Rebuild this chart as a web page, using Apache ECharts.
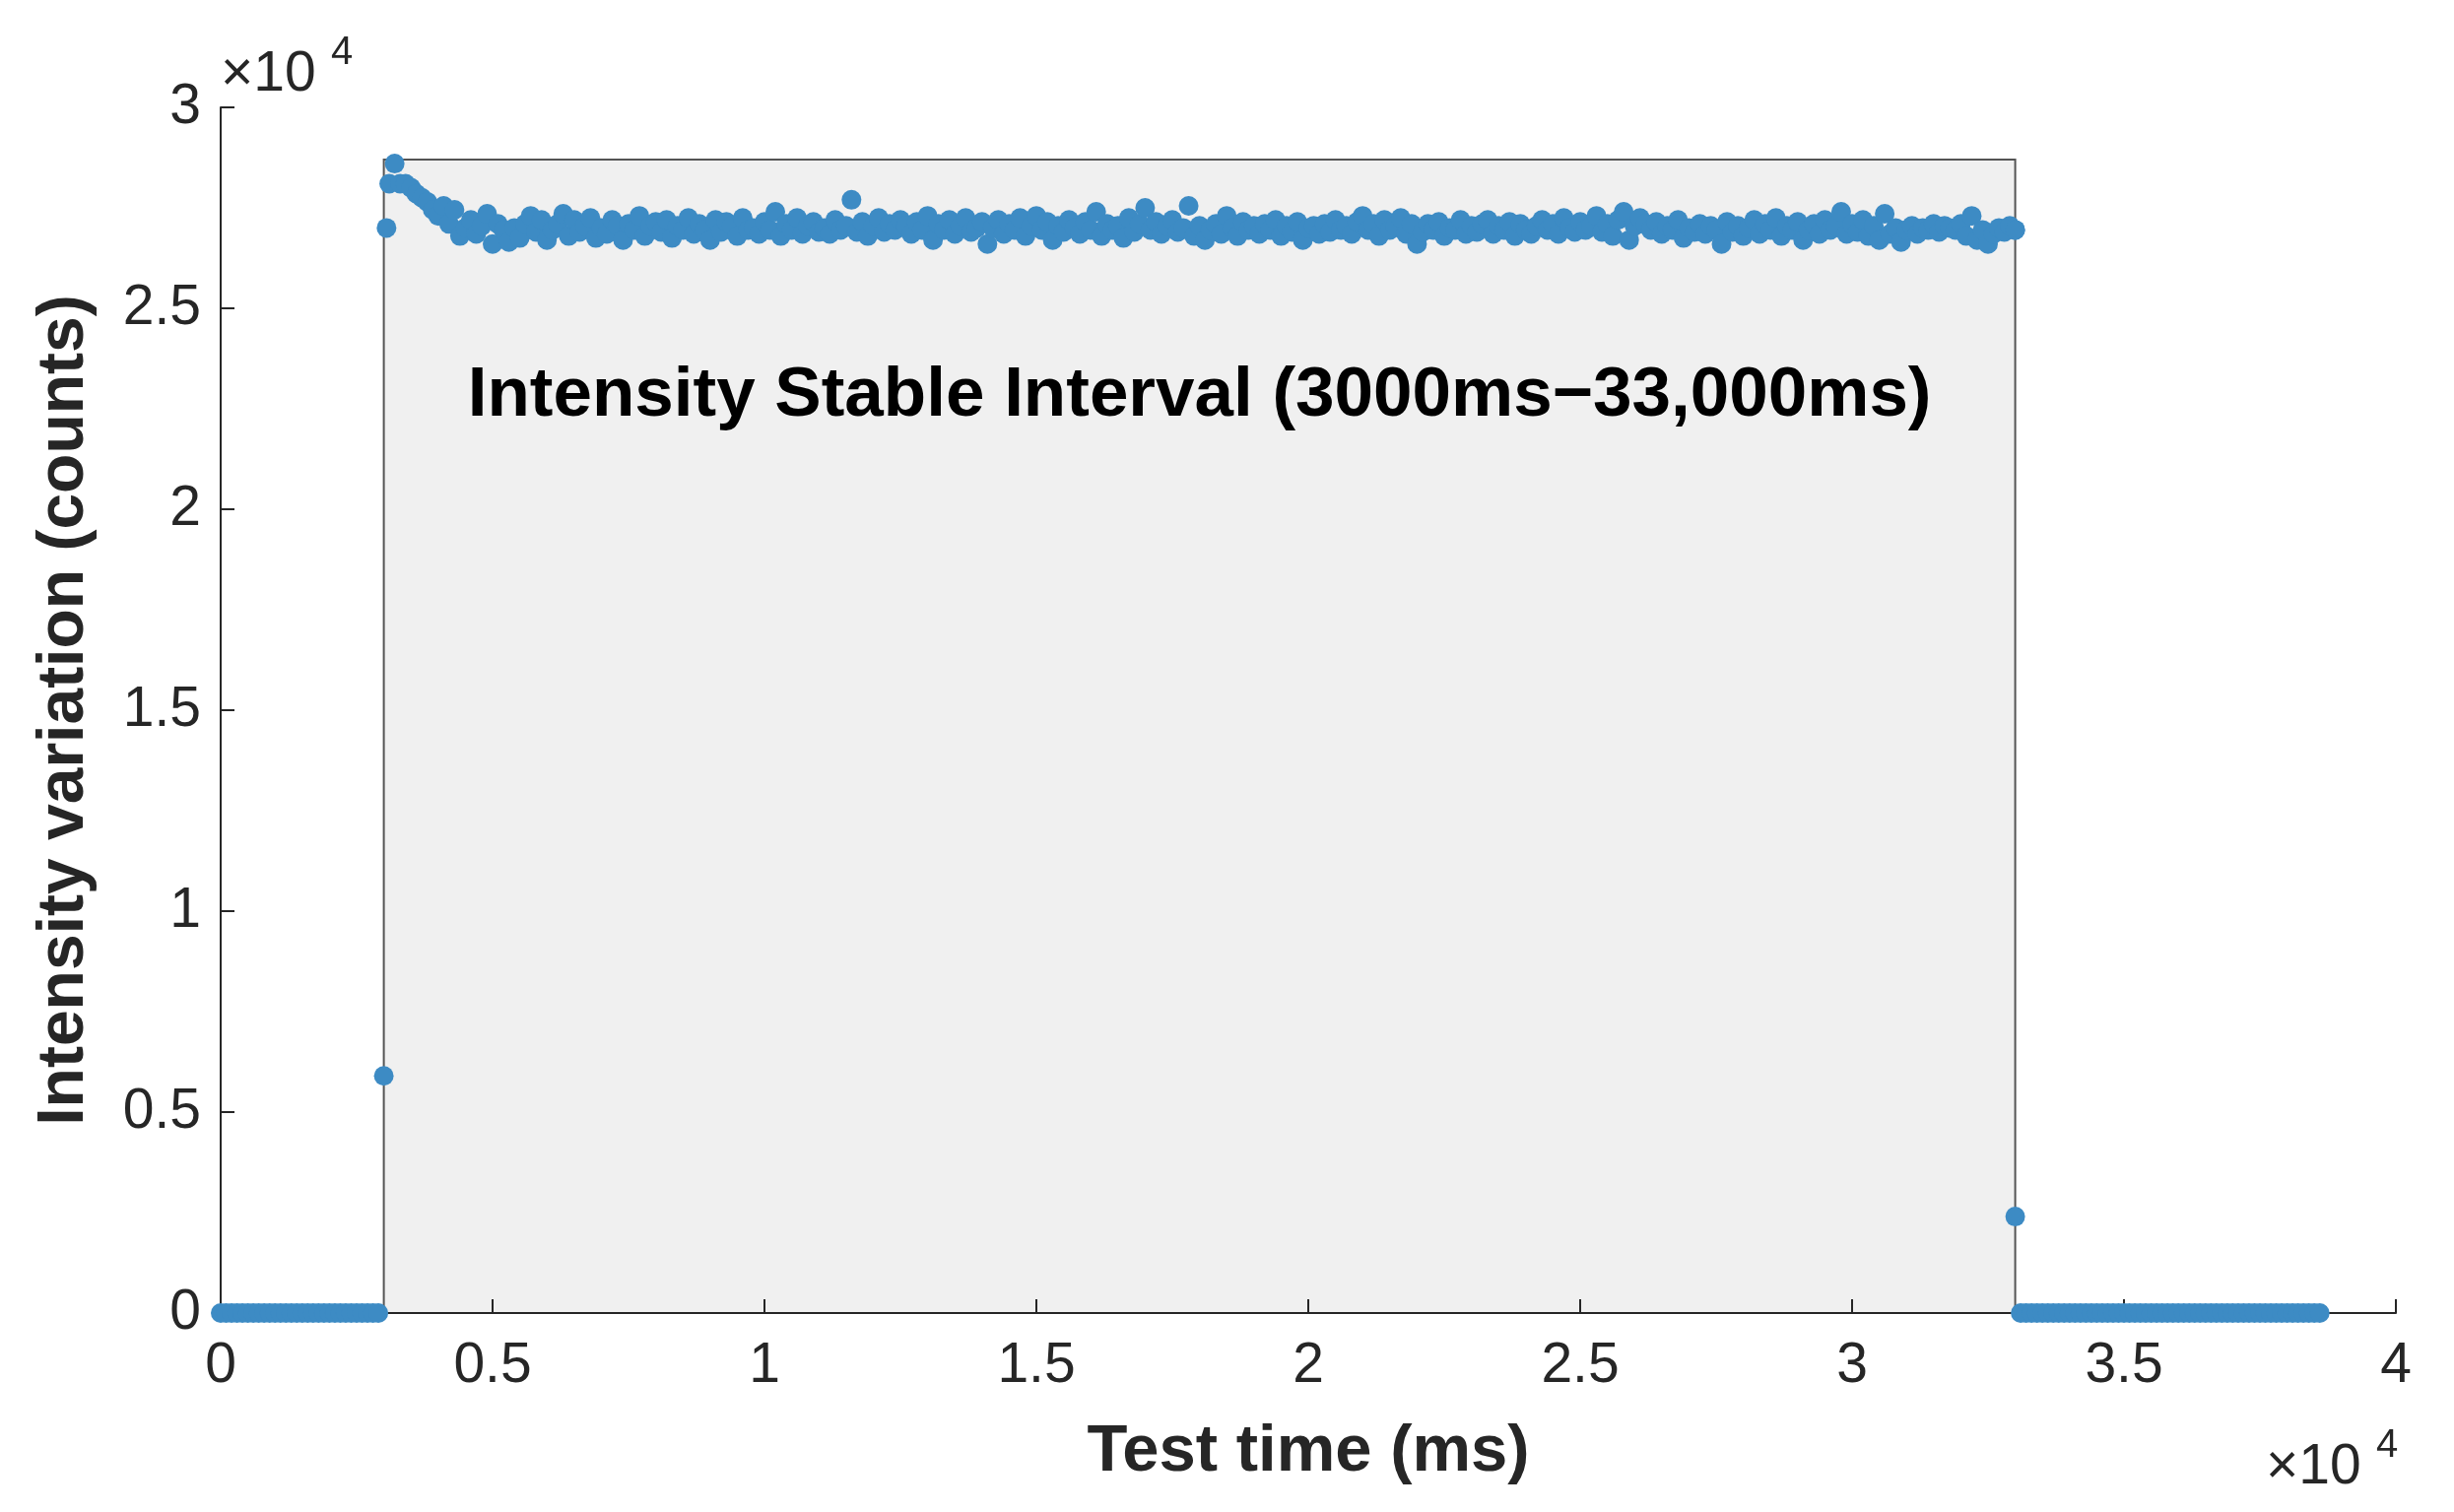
<!DOCTYPE html>
<html><head><meta charset="utf-8">
<script src="https://cdn.jsdelivr.net/npm/echarts@6/dist/echarts.min.js"></script>
<style>html,body{margin:0;background:#fff}#c{width:2491px;height:1535px}</style>
</head><body><div id="c"></div>
<script>
const preTimes = [0,100,200,300,400,500,600,700,800,900,1000,1100,1200,1300,1400,1500,1600,1700,1800,1900,2000,2100,2200,2300,2400,2500,2600,2700,2800,2900];
const postTimes = [33100,33200,33300,33400,33500,33600,33700,33800,33900,34000,34100,34200,34300,34400,34500,34600,34700,34800,34900,35000,35100,35200,35300,35400,35500,35600,35700,35800,35900,36000,36100,36200,36300,36400,36500,36600,36700,36800,36900,37000,37100,37200,37300,37400,37500,37600,37700,37800,37900,38000,38100,38200,38300,38400,38500,38600];
const edgePoints = [[3000,5900],[3050,27000],[33000,26950],[33000,2400]];
const stableStart = 3100, stableStep = 100;
const stableValues = [
28100,28600,28100,28100,28000,27850,27750,27650,27450,27300,
27550,27100,27450,26800,27000,27200,26850,27050,27350,26600,
27100,26950,26650,27000,26750,27100,27300,26900,27200,26700,
26950,27100,27350,26800,27200,26900,27050,27250,26750,27000,
26850,27200,27050,26700,27100,26950,27300,26800,27050,27150,
26900,27200,26750,27050,26950,27250,26850,27100,26950,26700,
27200,26900,27150,27050,26800,27250,26950,27000,26850,27150,
26950,27400,26800,27100,26950,27250,26850,27050,27150,26900,
27000,26850,27200,26950,27050,27700,26900,27150,26800,27050,
27250,26900,27100,26950,27200,27050,26850,27150,26950,27300,
26700,27100,26950,27200,26850,27050,27250,26900,27000,27150,
26600,27000,27200,26850,27100,26950,27250,26800,27050,27300,
26950,27150,26700,27050,26900,27200,27000,26850,27150,26950,
27400,26800,27100,26950,27050,26750,27250,26900,27100,27500,
26950,27150,26850,27050,27200,26900,27000,27550,26800,27050,
26700,26950,27100,26850,27300,27000,26800,27150,26950,27050,
26850,27100,26950,27200,26800,27050,26900,27150,26700,27000,
27050,26850,27100,26900,27200,26950,27050,26850,27150,27300,
26950,27100,26800,27200,26950,27050,27250,26850,27100,26600,
26900,27100,26950,27150,26800,27000,26950,27200,26850,27050,
26900,27100,27200,26850,27050,26950,27150,26800,27100,26950,
26850,27050,27200,26950,27100,26850,27250,27000,26900,27150,
26950,27050,27300,26900,27100,26800,27200,27400,26700,27050,
27250,27100,26950,27150,26850,27050,26950,27200,26750,27000,
26900,27100,26850,27050,26950,26600,27150,26900,27050,26800,
27000,27200,26850,27100,26950,27250,26800,27050,26950,27150,
26700,26950,27100,26850,27200,26950,27050,27400,26850,27100,
26900,27200,26800,27050,26700,27350,26850,27000,26650,26950,
27050,26850,27000,26950,27100,26900,27050,27000,26950,27100,
26800,27300,26700,26950,26600,26850,27000,26900,27050,26950
];
const stableLabel = 'Intensity Stable Interval (3000ms\u221233,000ms)';

const data = [];
preTimes.forEach(t => data.push([t, 0]));
edgePoints.forEach(p => data.push(p));
stableValues.forEach((v, i) => data.push([stableStart + i * stableStep, v]));
postTimes.forEach(t => data.push([t, 0]));

const chart = echarts.init(document.getElementById('c'));
const font = 'Liberation Sans, Arial, sans-serif';
chart.setOption({
  animation: false,
  grid: {left: 224, right: 59, top: 109, bottom: 202},
  xAxis: {
    type: 'value', min: 0, max: 40000, interval: 5000,
    name: 'Test time (ms)', nameLocation: 'middle', nameGap: 108,
    nameTextStyle: {fontFamily: font, fontWeight: 'bold', fontSize: 67, color: '#262626'},
    axisLine: {lineStyle: {color: '#262626', width: 2}},
    axisTick: {inside: true, length: 14, lineStyle: {color: '#262626', width: 2}},
    axisLabel: {fontFamily: font, fontSize: 57, color: '#262626', margin: 26, formatter: v => String(v / 10000)},
    splitLine: {show: false}
  },
  yAxis: {
    type: 'value', min: 0, max: 30000, interval: 5000,
    name: 'Intensity variation (counts)', nameLocation: 'middle', nameGap: 125,
    nameTextStyle: {fontFamily: font, fontWeight: 'bold', fontSize: 66, color: '#262626'},
    axisLine: {show: true, lineStyle: {color: '#262626', width: 2}},
    axisTick: {show: true, inside: true, length: 14, lineStyle: {color: '#262626', width: 2}},
    axisLabel: {fontFamily: font, fontSize: 57, color: '#262626', margin: 20, formatter: v => String(v / 10000)},
    splitLine: {show: false}
  },
  graphic: [
    {type: 'text', left: 224, top: 48, style: {text: '\u00d710', font: '57px ' + font, fill: '#262626'}},
    {type: 'text', left: 336, top: 34, style: {text: '4', font: '40px ' + font, fill: '#262626'}},
    {type: 'text', left: 2300, top: 1462, style: {text: '\u00d710', font: '57px ' + font, fill: '#262626'}},
    {type: 'text', left: 2412, top: 1448, style: {text: '4', font: '40px ' + font, fill: '#262626'}}
  ],
  series: [{
    type: 'scatter', data: data, symbolSize: 20,
    itemStyle: {color: '#3d8bc4', opacity: 1},
    markArea: {
      silent: true,
      itemStyle: {color: '#f0f0f0', borderColor: '#555', borderWidth: 2},
      label: {show: false},
      data: [[{coord: [3000, 0]}, {coord: [33000, 28700]}]],
      z: -1
    },
    z: 3
  }, {
    type: 'scatter', data: [], silent: true,
    markPoint: {
      symbol: 'rect', symbolSize: 1, itemStyle: {color: 'transparent'},
      label: {show: true, position: 'inside', formatter: stableLabel, fontFamily: font, fontWeight: 'bold', fontSize: 71, color: '#000'},
      data: [{coord: [18000, 22800]}]
    }
  }]
});
</script></body></html>
